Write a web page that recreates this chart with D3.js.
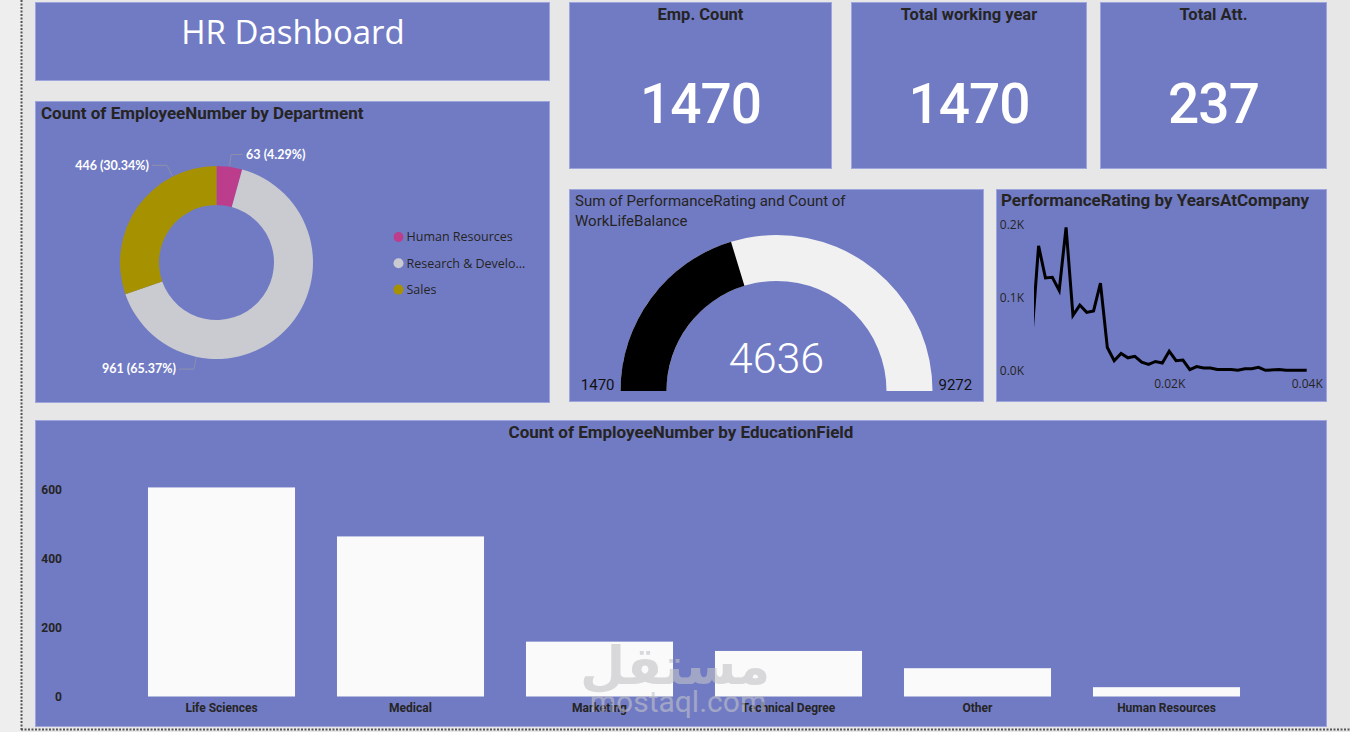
<!DOCTYPE html>
<html>
<head>
<meta charset="utf-8">
<title>HR Dashboard</title>
<script src="https://cdn.jsdelivr.net/npm/d3@7"></script>
<style>
  body { margin: 0; background: #e7e7e7; overflow: hidden; }
  svg { display: block; }
</style>
</head>
<body>
<script>
// ---- data ----
const kpiLabels = ['Emp. Count', 'Total working year', 'Total Att.'];
const kpiValues = [1470, 1470, 237];

const departments = ['Human Resources', 'Research & Development', 'Sales'];
const deptCounts = [63, 961, 446];

const gaugeMin = 1470;
const gaugeMax = 9272;
const gaugeValue = 4636;

const years = [0, 1, 2, 3, 4, 5, 6, 7, 8, 9, 10, 11, 12, 13, 14, 15, 16, 17, 18, 19, 20,
  21, 22, 23, 24, 25, 26, 27, 29, 30, 31, 32, 33, 34, 36, 37, 40];
const yearCounts = [44, 171, 127, 128, 110, 196, 76, 90, 80, 82, 120, 32, 14, 24, 18, 20, 12, 9, 13, 11, 27,
  14, 15, 2, 6, 4, 4, 2, 2, 1, 3, 3, 5, 1, 2, 1, 1];
const lineYTicks = [0, 100, 200];
const lineXTicks = [20, 40];

const eduFields = ['Life Sciences', 'Medical', 'Marketing', 'Technical Degree', 'Other', 'Human Resources'];
const eduCounts = [606, 464, 159, 132, 82, 27];
const barTicks = [0, 200, 400, 600];

// ---- look ----
const panelFill = '#717bc4';
const darkText = '#252423';
const titleFont = 'Roboto, "Noto Sans", sans-serif';
const uiFont = '"Segoe UI", "Open Sans", "Noto Sans", sans-serif';
const deptColors = ['#bb3d8c', '#c9cbd1', '#a69200'];

const svg = d3.select('body').append('svg')
  .attr('width', 1350)
  .attr('height', 732);

// background + the dotted page edges
svg.append('rect').attr('width', 1350).attr('height', 732).attr('fill', '#e7e7e7');
svg.append('rect').attr('width', 21).attr('height', 732).attr('fill', '#eeeeee');
svg.append('line').attr('x1', 21.5).attr('x2', 21.5).attr('y1', 0).attr('y2', 730)
  .attr('stroke', '#555').attr('stroke-width', 2).attr('stroke-dasharray', '2,1.5');
svg.append('line').attr('x1', 21).attr('x2', 1350).attr('y1', 729.5).attr('y2', 729.5)
  .attr('stroke', '#555').attr('stroke-width', 2).attr('stroke-dasharray', '2,1.5');

function panel(x, y, w, h) {
  svg.append('rect')
    .attr('x', x).attr('y', y).attr('width', w).attr('height', h)
    .attr('fill', panelFill)
    .attr('stroke', '#9ea5dc').attr('stroke-width', 1);
}

// ---- title ----
panel(35.5, 2.5, 514, 78);
svg.append('text')
  .attr('x', 293).attr('y', 44)
  .attr('text-anchor', 'middle')
  .attr('font-family', uiFont).attr('font-size', 33)
  .attr('fill', '#fff')
  .text('HR Dashboard');

// ---- KPI cards ----
const cards = [
  {x: 569.5, w: 262},
  {x: 851.5, w: 235},
  {x: 1100.5, w: 226}
];
cards.forEach(function (c, i) {
  panel(c.x, 2.5, c.w, 166);
  svg.append('text')
    .attr('x', c.x + c.w / 2).attr('y', 20)
    .attr('text-anchor', 'middle')
    .attr('font-family', titleFont).attr('font-weight', 700).attr('font-size', 16.5)
    .attr('fill', darkText)
    .text(kpiLabels[i]);
  svg.append('text')
    .attr('x', c.x + c.w / 2).attr('y', 123)
    .attr('text-anchor', 'middle')
    .attr('font-family', titleFont).attr('font-weight', 500).attr('font-size', 55)
    .attr('letter-spacing', -1)
    .attr('fill', '#fff')
    .text(kpiValues[i]);
});

// ---- donut: department ----
panel(35.5, 101.5, 514, 301);
svg.append('text')
  .attr('x', 41).attr('y', 119)
  .attr('font-family', titleFont).attr('font-weight', 700).attr('font-size', 17)
  .attr('fill', darkText)
  .text('Count of EmployeeNumber by Department');

const cx = 216.5, cy = 262.5, rOut = 96.5, rIn = 57.5;
const total = d3.sum(deptCounts);
const pie = d3.pie().sort(null).value(function (d) { return d; });
const arcs = pie(deptCounts);
const arc = d3.arc().innerRadius(rIn).outerRadius(rOut);

const donut = svg.append('g').attr('transform', 'translate(' + cx + ',' + cy + ')');
donut.selectAll('path')
  .data(arcs)
  .enter().append('path')
  .attr('d', arc)
  .attr('fill', function (d, i) { return deptColors[i]; });

// where power bi put the leader lines (degrees clockwise from 12 o'clock)
const leaderAngles = [7.7, 192, 333];
arcs.forEach(function (d, i) {
  const a = leaderAngles[i] * Math.PI / 180;
  const p1 = [Math.sin(a) * (rOut + 1), -Math.cos(a) * (rOut + 1)];
  const p2 = [Math.sin(a) * 109, -Math.cos(a) * 109];
  const right = Math.sin(a) >= 0;
  const p3 = [p2[0] + (right ? 12 : -15), p2[1]];
  donut.append('polyline')
    .attr('points', [p1, p2, p3].map(function (p) { return p.join(','); }).join(' '))
    .attr('fill', 'none')
    .attr('stroke', '#8d90a8').attr('stroke-width', 1);
  donut.append('text')
    .attr('x', p3[0] + (right ? 3 : -3)).attr('y', p3[1])
    .attr('dy', '0.35em')
    .attr('text-anchor', right ? 'start' : 'end')
    .attr('font-family', 'Lato, ' + uiFont).attr('font-weight', 700).attr('font-size', 12.5)
    .attr('fill', '#fff')
    .text(deptCounts[i] + ' (' + (deptCounts[i] / total * 100).toFixed(2) + '%)');
});

const legend = svg.append('g').attr('transform', 'translate(398.5,237)');
departments.forEach(function (name, i) {
  const label = name.length > 18 ? name.slice(0, 17) + '...' : name;
  const row = legend.append('g').attr('transform', 'translate(0,' + (i * 26.3) + ')');
  row.append('circle').attr('r', 5).attr('fill', deptColors[i]);
  row.append('text')
    .attr('x', 8).attr('dy', '0.35em')
    .attr('font-family', uiFont).attr('font-size', 12.5)
    .attr('fill', darkText)
    .text(label);
});

// ---- gauge ----
panel(569.5, 189.5, 414, 212);
svg.append('text')
  .attr('font-family', titleFont).attr('font-size', 15)
  .attr('fill', darkText)
  .selectAll('tspan')
  .data(['Sum of PerformanceRating and Count of', 'WorkLifeBalance'])
  .enter().append('tspan')
  .attr('x', 575)
  .attr('y', function (d, i) { return 206 + i * 20; })
  .text(function (d) { return d; });

const gx = 776.5, gy = 391;
const gaugeScale = d3.scaleLinear()
  .domain([gaugeMin, gaugeMax])
  .range([-Math.PI / 2, Math.PI / 2]);
const gaugeArc = d3.arc().innerRadius(110).outerRadius(156);
const gauge = svg.append('g').attr('transform', 'translate(' + gx + ',' + gy + ')');
gauge.append('path')
  .attr('d', gaugeArc({startAngle: gaugeScale(gaugeMin), endAngle: gaugeScale(gaugeMax)}))
  .attr('fill', '#f1f1f1');
gauge.append('path')
  .attr('d', gaugeArc({startAngle: gaugeScale(gaugeMin), endAngle: gaugeScale(gaugeValue)}))
  .attr('fill', '#000');
gauge.append('text')
  .attr('y', -18)
  .attr('text-anchor', 'middle')
  .attr('font-family', titleFont).attr('font-weight', 300).attr('font-size', 43)
  .attr('fill', '#fff')
  .text(gaugeValue);
gauge.append('text')
  .attr('x', -162).attr('y', -1)
  .attr('text-anchor', 'end')
  .attr('font-family', titleFont).attr('font-size', 15)
  .attr('fill', '#111')
  .text(gaugeMin);
gauge.append('text')
  .attr('x', 162).attr('y', -1)
  .attr('font-family', titleFont).attr('font-size', 15)
  .attr('fill', '#111')
  .text(gaugeMax);

// ---- line: years at company ----
panel(996.5, 189.5, 330, 212);
svg.append('text')
  .attr('x', 1001).attr('y', 206)
  .attr('font-family', titleFont).attr('font-weight', 700).attr('font-size', 17)
  .attr('fill', darkText)
  .text('PerformanceRating by YearsAtCompany');

const lx = d3.scaleLinear().domain([0, 40]).range([1031.7, 1306.7]);
const ly = d3.scaleLinear().domain([0, 200]).range([371, 224.5]);

svg.append('clipPath').attr('id', 'lineClip')
  .append('rect').attr('x', 1034).attr('y', 200).attr('width', 285).attr('height', 185);

svg.append('path')
  .datum(years)
  .attr('clip-path', 'url(#lineClip)')
  .attr('fill', 'none')
  .attr('stroke', '#000').attr('stroke-width', 3)
  .attr('stroke-linejoin', 'miter')
  .attr('d', d3.line()
    .x(function (d) { return lx(d); })
    .y(function (d, i) { return ly(yearCounts[i]); }));

const lyAxis = svg.append('g')
  .attr('transform', 'translate(1026,0)')
  .call(d3.axisLeft(ly).tickValues(lineYTicks).tickSize(0).tickPadding(2)
    .tickFormat(function (d) { return (d / 1000).toFixed(1) + 'K'; }));
const lxAxis = svg.append('g')
  .attr('transform', 'translate(0,371)')
  .call(d3.axisBottom(lx).tickValues(lineXTicks).tickSize(0).tickPadding(8)
    .tickFormat(function (d) { return (d / 1000).toFixed(2) + 'K'; }));
[lyAxis, lxAxis].forEach(function (g) {
  g.select('.domain').remove();
  g.selectAll('text')
    .attr('font-family', uiFont).attr('font-size', 12)
    .attr('fill', darkText);
});

// ---- bars: education field ----
panel(35.5, 420.5, 1291, 306);
svg.append('text')
  .attr('x', 681).attr('y', 438)
  .attr('text-anchor', 'middle')
  .attr('font-family', titleFont).attr('font-weight', 700).attr('font-size', 17)
  .attr('fill', darkText)
  .text('Count of EmployeeNumber by EducationField');

const bx = d3.scaleBand()
  .domain(eduFields)
  .range([127, 1261])
  .paddingInner(0.222)
  .paddingOuter(0.111);
const by = d3.scaleLinear().domain([0, 600]).range([696.5, 489.5]);

svg.append('g').selectAll('rect')
  .data(eduCounts)
  .enter().append('rect')
  .attr('x', function (d, i) { return bx(eduFields[i]); })
  .attr('y', function (d) { return by(d); })
  .attr('width', bx.bandwidth())
  .attr('height', function (d) { return by(0) - by(d); })
  .attr('fill', '#fafafa');

const byAxis = svg.append('g')
  .attr('transform', 'translate(64,0)')
  .call(d3.axisLeft(by).tickValues(barTicks).tickSize(0).tickPadding(2));
const bxAxis = svg.append('g')
  .attr('transform', 'translate(0,696.5)')
  .call(d3.axisBottom(bx).tickSize(0).tickPadding(7));
[byAxis, bxAxis].forEach(function (g) {
  g.select('.domain').remove();
  g.selectAll('text')
    .attr('font-family', titleFont).attr('font-weight', 700).attr('font-size', 12)
    .attr('fill', darkText);
});

// ---- site watermark ----
const wm = svg.append('g').attr('fill', '#c3c3c8').attr('opacity', 0.6);
wm.append('text')
  .attr('x', 675).attr('y', 684)
  .attr('text-anchor', 'middle')
  .attr('font-family', '"DejaVu Sans", sans-serif').attr('font-weight', 700).attr('font-size', 52)
  .text('مستقل');
wm.append('text')
  .attr('x', 678).attr('y', 712)
  .attr('text-anchor', 'middle')
  .attr('font-family', 'Roboto, sans-serif').attr('font-size', 30)
  .text('mostaql.com');
</script>
</body>
</html>
